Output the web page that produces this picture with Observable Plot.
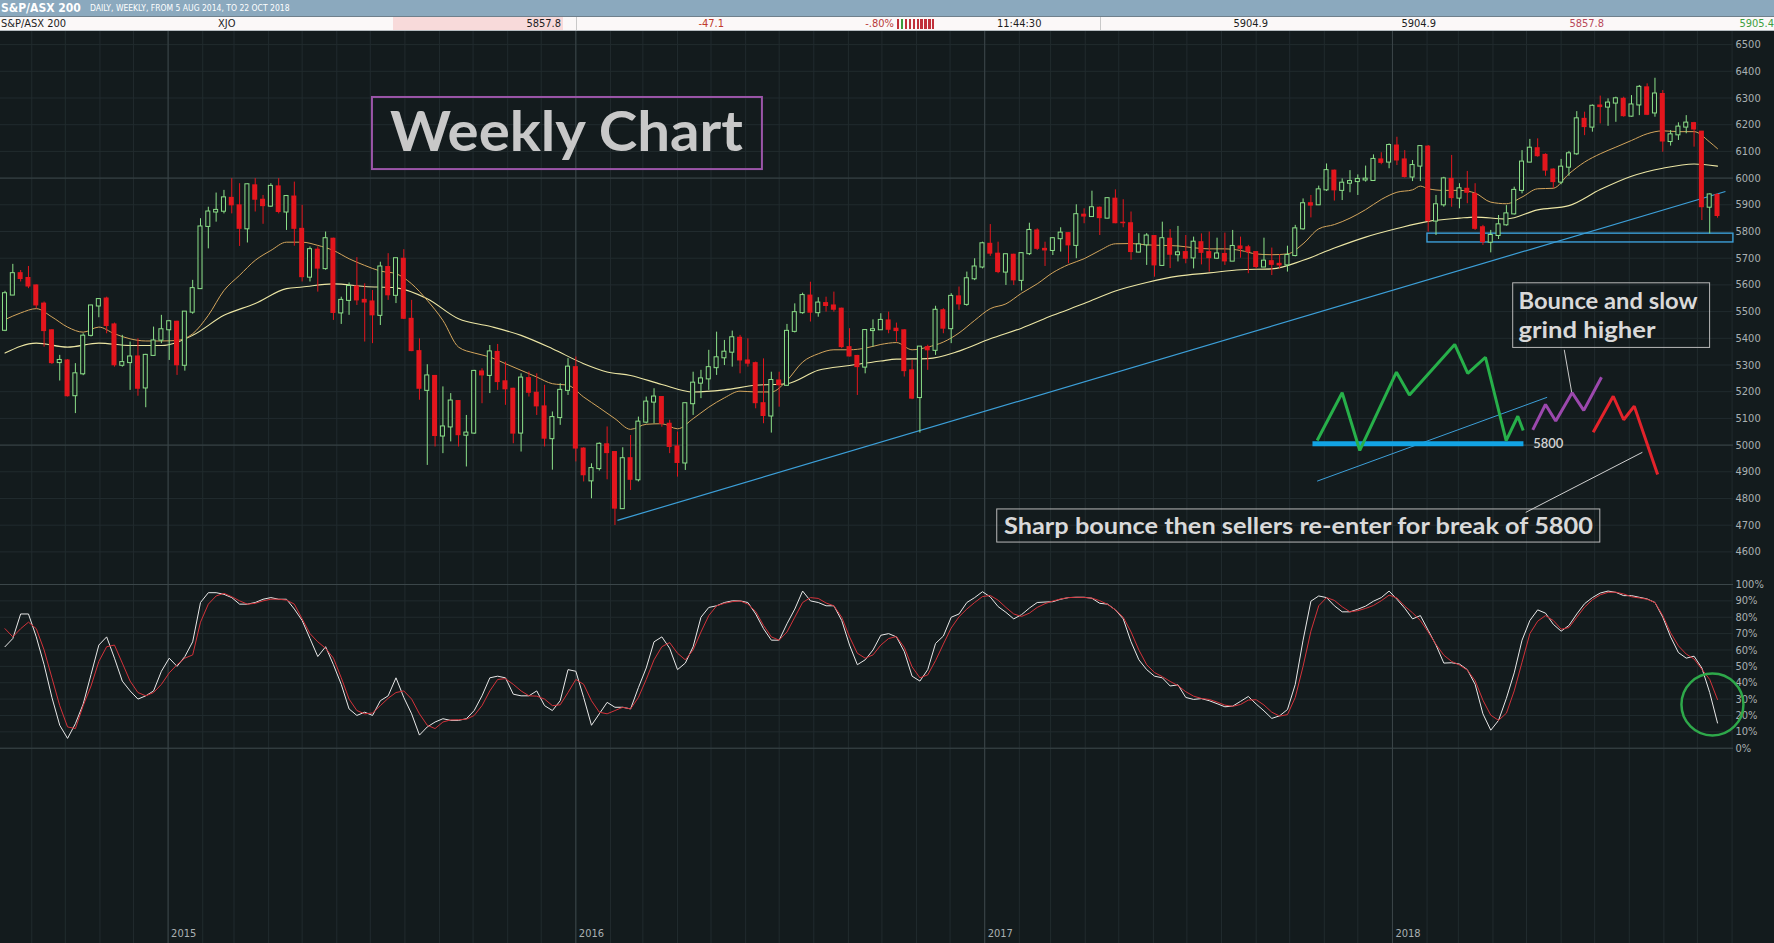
<!DOCTYPE html>
<html><head><meta charset="utf-8">
<script src="https://cdn.jsdelivr.net/npm/d3@7"></script>
<script src="https://cdn.jsdelivr.net/npm/@observablehq/plot@0.6"></script>
<style>
html,body{margin:0;padding:0;background:#131b1d;}
body{width:1774px;height:943px;overflow:hidden;font-family:"DejaVu Sans Condensed","DejaVu Sans",sans-serif;}
#bar1{position:relative;height:16px;background:#8ba9be;color:#fff;}
#bar2{position:relative;height:13px;background:#fbf8f8;border-top:1px solid #6f808c;border-bottom:1px solid #b5bcc0;font-size:11px;line-height:13px;color:#1d1d1d;}
#bar1 span,#bar2 span,#bar2 div{position:absolute;top:0;white-space:nowrap;}
.r{text-align:right;}
</style></head>
<body>
<div id="bar1">
  <span style="left:1px;font-weight:bold;font-size:12px;line-height:16px;">S&amp;P/ASX 200</span>
  <span style="left:90px;font-size:8.5px;line-height:17px;">DAILY, WEEKLY, FROM 5 AUG 2014, TO 22 OCT 2018</span>
</div>
<div id="bar2">
  <span style="left:1px;">S&amp;P/ASX 200</span>
  <span style="left:218px;">XJO</span>
  <div style="left:393px;width:170px;height:13px;background:#f8dada;"></div>
  <span class="r" style="left:393px;width:168px;">5857.8</span>
  <div style="left:576px;width:1px;height:13px;background:#c9c9c9;"></div>
  <span class="r" style="left:640px;width:84px;color:#c0392b;">-47.1</span>
  <span class="r" style="left:820px;width:74px;color:#b83a3a;">-.80%</span>
  <div id="bars" style="left:897px;width:40px;height:13px;"></div>
  <span style="left:997px;">11:44:30</span>
  <div style="left:1100px;width:1px;height:13px;background:#c9c9c9;"></div>
  <span class="r" style="left:1180px;width:88px;">5904.9</span>
  <span class="r" style="left:1350px;width:86px;">5904.9</span>
  <span class="r" style="left:1520px;width:84px;color:#b8485a;">5857.8</span>
  <span class="r" style="left:1690px;width:84px;color:#3f9f3f;">5905.4</span>
</div>
<div id="price"></div>
<div id="osc"></div>
<script>
// ---------------- DATA ----------------
const opens = [5430,5562,5644,5626,5598,5530,5430,5309,5317,5185,
5267,5411,5521,5549,5452,5299,5309,5332,5214,5336,
5393,5432,5462,5299,5498,5586,5819,5873,5876,5926,
5898,5810,5973,5919,5895,5969,5873,5931,5810,5629,
5732,5661,5773,5495,5542,5594,5544,5538,5486,5667,
5561,5698,5473,5352,5205,5259,5034,5068,5165,5037,
5045,5276,5261,5349,5239,5211,5045,5251,5196,5145,
5024,5103,5205,5292,4987,4866,4912,5003,4974,4762,
4951,4870,5086,5161,5180,5080,4995,4933,5155,5232,
5248,5290,5327,5348,5402,5317,5307,5157,5109,5242,
5224,5426,5496,5560,5496,5532,5523,5511,5367,5334,
5292,5429,5432,5467,5436,5430,5280,5178,5367,5355,
5505,5436,5557,5527,5623,5667,5754,5717,5648,5713,
5617,5717,5804,5735,5729,5773,5794,5748,5863,5856,
5889,5850,5923,5833,5831,5723,5750,5783,5673,5773,
5713,5723,5701,5760,5723,5700,5716,5689,5744,5741,
5723,5667,5689,5679,5675,5710,5810,5906,5900,5956,
6028,5954,5981,5987,5993,5991,6070,6060,6122,6070,
6004,6045,6118,5839,5900,5997,5925,5960,5941,5816,
5760,5785,5825,5866,5954,6060,6112,6087,6032,5985,
6041,6091,6222,6191,6272,6266,6281,6297,6232,6274,
6340,6244,6315,6137,6162,6191,6206,6174,5891,5937];
const highs = [5576,5677,5654,5669,5600,5536,5432,5336,5320,5305,
5417,5524,5547,5554,5457,5411,5386,5398,5340,5442,
5486,5467,5464,5500,5617,5848,5891,5944,5954,5998,
5979,5978,5998,5935,5979,5998,5935,5985,5898,5742,
5742,5798,5775,5554,5607,5702,5604,5579,5685,5717,
5700,5732,5542,5398,5301,5261,5218,5193,5167,5111,
5280,5286,5373,5377,5311,5213,5267,5274,5267,5224,
5124,5230,5324,5330,4990,4930,5008,5068,4975,4990,
5036,5105,5180,5211,5182,5093,5049,5157,5273,5280,
5355,5423,5392,5427,5411,5398,5311,5323,5273,5273,
5452,5529,5569,5610,5552,5554,5573,5513,5436,5336,
5430,5469,5492,5498,5457,5432,5317,5369,5374,5520,
5511,5567,5592,5648,5698,5760,5826,5760,5715,5715,
5720,5831,5810,5760,5777,5814,5796,5900,5885,5951,
5892,5925,5956,5919,5873,5792,5792,5785,5835,5807,
5819,5785,5779,5791,5798,5775,5794,5804,5779,5748,
5725,5775,5738,5713,5745,5823,5922,5935,5970,6053,
6030,5997,6028,6012,6045,6087,6095,6128,6153,6103,
6066,6120,6122,5935,6003,6085,5979,6025,5979,5823,
5804,5860,5897,5966,6103,6145,6147,6091,6035,6070,
6100,6249,6247,6274,6307,6297,6303,6303,6309,6347,
6353,6374,6328,6178,6207,6234,6209,6175,5941,5941];
const lows = [5425,5560,5611,5586,5511,5367,5302,5240,5180,5118,
5260,5405,5477,5417,5292,5292,5205,5183,5140,5334,
5380,5317,5261,5277,5490,5584,5735,5835,5866,5866,
5744,5757,5873,5827,5890,5866,5804,5745,5611,5611,
5573,5655,5467,5452,5486,5523,5386,5380,5448,5542,
5530,5470,5350,5168,4924,4993,4968,5012,4993,4918,
5040,5155,5193,5205,5149,5005,4974,5180,5111,4993,
4906,5074,5186,4937,4862,4799,4903,4870,4699,4760,
4830,4862,5080,5080,5067,4968,4880,4905,5111,5174,
5205,5261,5298,5292,5267,5292,5136,5080,5045,5142,
5220,5420,5490,5461,5479,5498,5498,5361,5330,5186,
5267,5367,5430,5417,5386,5255,5170,5045,5280,5336,
5417,5380,5505,5520,5616,5660,5707,5642,5598,5598,
5577,5710,5729,5669,5710,5723,5679,5698,5829,5855,
5785,5848,5829,5814,5692,5720,5673,5629,5670,5661,
5686,5679,5660,5675,5648,5695,5673,5688,5700,5642,
5660,5665,5635,5660,5648,5705,5805,5851,5898,5950,
5914,5916,5945,5935,5985,5990,6050,6035,6047,6000,
5987,5987,5798,5785,5891,5891,5885,5904,5804,5748,
5720,5770,5820,5862,5941,6057,6078,6007,5962,5975,
6007,6085,6159,6172,6203,6194,6209,6228,6228,6234,
6234,6228,6097,6120,6141,6166,6116,5841,5791,5850];
const closes = [5567,5642,5622,5594,5523,5427,5307,5317,5183,5267,
5408,5521,5545,5446,5299,5309,5330,5211,5336,5390,
5432,5462,5299,5498,5586,5817,5873,5879,5926,5898,
5810,5975,5919,5895,5969,5873,5931,5810,5629,5732,
5661,5773,5495,5542,5594,5542,5534,5486,5667,5561,
5698,5473,5352,5211,5259,5034,5068,5165,5037,5045,
5276,5261,5349,5236,5209,5043,5251,5196,5145,5024,
5103,5205,5292,4987,4887,4912,5003,4970,4762,4949,
4870,5086,5161,5180,5080,4993,4933,5155,5232,5248,
5290,5327,5348,5402,5317,5305,5157,5109,5242,5224,
5426,5496,5560,5496,5532,5521,5507,5367,5332,5292,
5429,5432,5467,5432,5427,5277,5174,5367,5355,5505,
5436,5557,5527,5623,5667,5754,5717,5648,5713,5617,
5717,5804,5735,5729,5773,5794,5748,5863,5856,5889,
5850,5923,5831,5831,5723,5750,5783,5673,5773,5713,
5720,5698,5760,5720,5700,5716,5688,5744,5735,5723,
5667,5689,5675,5673,5710,5810,5904,5897,5956,6028,
5954,5981,5987,5995,5996,6070,6057,6122,6066,6004,
6047,6118,5839,5900,5997,5925,5960,5945,5810,5760,
5785,5825,5866,5954,6060,6112,6082,6028,5985,6041,
6091,6222,6191,6269,6266,6281,6297,6232,6274,6340,
6237,6315,6137,6162,6191,6206,6182,5891,5937,5858];

// moving averages: [week number, price]
const fastMA = [[1,5470],[3,5495],[5,5511],[7,5480],[9,5442],[11,5423],[13,5442],[15,5417],[17,5398],[19,5390],[21,5390],[23,5392],[25,5417],[27,5486],[29,5579],[31,5636],[33,5692],[35,5729],[37,5760],[39,5760],[41,5748],[43,5729],[45,5698],[47,5673],[49,5652],[51,5642],[53,5604],[55,5542],[57,5467],[59,5367],[61,5345],[63,5330],[65,5305],[67,5280],[69,5255],[71,5230],[73,5224],[75,5180],[77,5140],[79,5099],[81,5059],[83,5078],[85,5080],[87,5061],[89,5099],[91,5142],[93,5177],[95,5202],[97,5199],[99,5199],[101,5242],[103,5311],[105,5342],[107,5357],[109,5357],[111,5363],[113,5377],[115,5384],[117,5357],[119,5367],[121,5386],[123,5420],[125,5467],[127,5511],[129,5529],[131,5569],[133,5604],[135,5646],[137,5676],[139,5698],[141,5729],[143,5754],[145,5755],[147,5750],[149,5748],[151,5746],[153,5739],[155,5735],[157,5735],[159,5729],[161,5716],[163,5713],[165,5716],[167,5754],[169,5810],[171,5826],[173,5850],[175,5882],[177,5920],[179,5947],[181,5956],[182,5970],[183,5960],[185,5954],[187,5954],[189,5944],[191,5910],[193,5904],[195,5929],[197,5960],[199,5962],[201,6016],[203,6060],[205,6091],[207,6116],[209,6141],[211,6166],[213,6177],[215,6174],[217,6174],[219,6135],[220,6110]];
const slowMA = [[1,5345],[5,5382],[9,5367],[13,5382],[17,5373],[21,5373],[25,5411],[29,5486],[33,5530],[37,5586],[39,5592],[43,5604],[47,5594],[51,5589],[55,5548],[59,5473],[63,5445],[67,5411],[71,5361],[75,5305],[78,5274],[81,5261],[85,5227],[89,5199],[93,5207],[97,5224],[101,5230],[105,5280],[109,5298],[113,5315],[115,5322],[119,5324],[123,5352],[127,5398],[131,5438],[135,5486],[139,5530],[143,5577],[147,5609],[151,5633],[155,5645],[159,5657],[163,5660],[167,5692],[171,5738],[175,5779],[179,5811],[183,5838],[187,5850],[189,5854],[193,5847],[197,5881],[201,5897],[205,5957],[209,6007],[213,6037],[217,6053],[220,6045]];

// stochastic oscillator, one value per week
const stochK = [62,67,82,82,68,51,31,14,6,15,
27,45,63,68,55,41,35,30,32,35,
47,55,50,56,65,89,95,95,94,92,
88,88,89,91,92,91,91,85,78,67,
56,62,51,39,24,20,22,20,29,32,
43,31,21,8,13,16,18,17,17,18,
23,32,43,44,43,33,32,32,35,26,
23,29,48,47,31,14,21,28,25,25,
24,37,49,65,68,61,48,52,62,80,
86,87,89,90,90,89,82,73,66,66,
76,85,96,90,89,87,87,78,63,51,
54,60,69,70,68,59,44,41,48,64,
68.5,80,82,89,92,95.6,92.4,86.5,83,79,
81.6,85.6,89,89.3,89.5,91,92,92.2,92.2,91.6,
88.5,88,84.5,79,65,54,48,44,43,38,
38.7,31,29.8,30.3,29,27.2,25.3,25.7,28.6,31.6,
27,22.8,18.2,19.8,23.6,39,66,89.8,93,92,
87,83.3,83.3,84.9,86.8,89.8,92,96,91,85.5,
79,81,72,63,52,52.2,51.4,48,39,21,
11,17,30.5,46,66,78,84.5,82.5,75.7,71.5,
75,82,88.3,92,94.8,96,95.2,93.2,93.2,92.2,
91.2,89,80,68,58.4,55,56.2,49,34,15.4];
const stochD = [73,68,73,77,73,60,43,26,13,12,
26,38,53,62,63,52,41,34,32,34,
39,46,51,55,57,77,88,93,94.6,92.5,
90,88,88.5,90,91,91,90.5,88,79,70,
65,61,55,43,30,23,21,21.5,26,30.5,
34,35,30,21,14,12,16,17.3,17.4,17.7,
20,26,35,42,42.5,39,35,32,31.8,30,
26,26.5,34,42,39,29,22,21,23,25,
24,31,42,54,62,64.5,58,54,60,71,
81,87,88.5,89.5,90,88,83.5,75,68,66,
71,80,89,92,91.5,88.7,87,80,68,58,
55,57,63,67,68.2,61.6,49.7,43,44.8,53.5,
63.6,73.4,80.3,85,89,92.6,93.3,90.4,86,82,
80.5,82.5,86,88.3,89.9,91.2,92,92.2,92.1,91.7,
90.1,87.9,84.5,80,71,60,51,46.2,43.7,40.8,
38.2,34.5,31.8,30.4,29.8,28.2,26.3,25.6,26.7,29.4,
29.6,26.4,22,19.6,20.5,31,50,71.5,87,92,
90.3,86.4,83.3,84,85.4,87.2,90.1,93.5,91.8,86.8,
82.7,78,71,63.4,56.8,53,50.8,47.7,41.3,29.3,
20.2,17,21.4,35,52.5,70,77.6,81,78,72.7,
73.7,80,86.2,90.7,93.7,95.2,95.3,94.2,92.5,91.8,
91,89,81,70.5,62.5,57.5,54.5,48.2,42,29.7];

// ticks
const priceTicks = [4600,4700,4800,4900,5000,5100,5200,5300,5400,5500,5600,5700,5800,5900,6000,6100,6200,6300,6400,6500];
const pctTicks = [0,10,20,30,40,50,60,70,80,90,100];
const yearLabels = ["2015","2016","2017","2018"];
const yearStarts = ["2015-01-01","2016-01-01","2017-01-01","2018-01-01"];

// annotations (week number, price)
const trendLine = [[79.32,4718],[221.01,5950]];
const supportBox = [{w1:182.91, w2:222.03, p1:5759, p2:5792}];
const greenPath = [[168.80,5017],[172.00,5196],[174.25,4980],[178.94,5273],[180.60,5188],[186.39,5377],[188.06,5269],[190.32,5329],[192.97,5017],[194.46,5108],[195.15,5055]];
const purplePath = [[196.37,5057],[198.00,5152],[199.31,5090],[201.41,5196],[202.89,5130],[205.16,5254]];
const redPath = [[204.10,5048],[206.66,5183],[208.0,5095],[209.35,5146],[212.34,4890]];
const level5800 = [[168.20,5005],[195.18,5005]];
const thinBlue = [[168.80,4865],[198.21,5179]];
const calloutSharp = [[195.47,4748],[210.39,4973]];
const calloutBounce = [[200.40,5357],[201.35,5198]];
const boxes = [
  {w1:47.99, w2:97.86, p1:6032, p2:6302, stroke:"#9b55a8", sw:2},
  {w1:193.87, w2:219.05, p1:5364, p2:5606, stroke:"#b8b8b8", sw:1},
  {w1:127.89, w2:205.01, p1:4635, p2:4759, stroke:"#b8b8b8", sw:1}
];
const titleNote = [{w:72.80, p:6100.7, text:"Weekly Chart", len:353}];
const notes = [
  {w:194.55, p:5511.6, text:"Bounce and slow", len:179},
  {w:194.55, p:5401.9, text:"grind higher", len:137},
  {w:128.75, p:4665.2, text:"Sharp bounce then sellers re-enter for break of 5800", len:589}
];
const circleMark = [{w:219.35, pct:26.7}];

// ---------------- helpers ----------------
const DAY = 864e5;
const t0 = Date.UTC(2014, 7, 8);
const wd = w => new Date(t0 + (w - 1) * 7 * DAY);
const xDomain = [new Date(t0 - 4.03 * DAY), new Date(t0 + 1547.3 * DAY)];
const monthLines = d3.utcMonth.range(new Date(Date.UTC(2014,8,1)), new Date(Date.UTC(2018,11,1)));
const yearDates = yearStarts.map(s => new Date(s + "T00:00:00Z"));

const BG = "#131b1d", GRID = "#212b2e", GRID2 = "#3b4649", AX = "#a9b0b2";
const UP = "#8ce089", DOWN = "#e3161d";

// header mini bars
{
  const bars = document.getElementById("bars");
  for (let i = 0; i < 10; i++) {
    const b = document.createElement("div");
    b.style.cssText = `position:absolute;top:2px;left:${i*3.9}px;width:2.4px;height:10px;background:${i===1?"#3a9a3a":"#c0303a"}`;
    bars.appendChild(b);
  }
}

const candles = closes.map((c, i) => ({date: wd(i + 1), o: opens[i], h: highs[i], l: lows[i], c, up: c >= opens[i]}));
const ups = candles.filter(d => d.up), downs = candles.filter(d => !d.up);

const pt = d => wd(d[0]);
const lineMark = (data, stroke, sw) => Plot.line(data, {x: pt, y: d => d[1], stroke, strokeWidth: sw, strokeLinejoin: "miter", strokeLinecap: "butt"});

const price = Plot.plot({
  width: 1774, height: 544,
  marginLeft: 0, marginRight: 41, marginTop: 0, marginBottom: 0,
  style: {background: BG, color: AX, fontFamily: "DejaVu Sans Condensed, DejaVu Sans, sans-serif", fontSize: "11px"},
  x: {type: "utc", domain: xDomain, axis: null},
  y: {domain: [4511.6, 6549.1], axis: null},
  marks: [
    Plot.ruleX(monthLines, {stroke: GRID}),
    Plot.ruleY(priceTicks, {stroke: GRID}),
    Plot.ruleX(yearDates, {stroke: GRID2}),
    Plot.ruleY([5000, 6000], {stroke: GRID2}),
    Plot.axisY({anchor: "right", ticks: priceTicks, tickSize: 0, tickPadding: 2, tickFormat: d => String(d), fill: AX, label: null}),
    Plot.line(slowMA, {x: pt, y: d => d[1], stroke: "#ece6a4", strokeWidth: 1.1, curve: "monotone-x"}),
    Plot.line(fastMA, {x: pt, y: d => d[1], stroke: "#d3a55c", strokeWidth: 1, curve: "monotone-x"}),
    lineMark(trendLine, "#3c9fd8", 1.2),
    Plot.rect(supportBox, {x1: d => wd(d.w1), x2: d => wd(d.w2), y1: "p1", y2: "p2", fill: "none", stroke: "#3c9fd8", strokeWidth: 1.4}),
    Plot.ruleX(candles, {x: "date", y1: "l", y2: "h", stroke: d => d.up ? UP : DOWN, strokeWidth: 1}),
    Plot.rect(downs, {x1: d => new Date(+d.date - 2.25 * DAY), x2: d => new Date(+d.date + 2.25 * DAY), y1: "o", y2: "c", fill: DOWN, insetTop: -0.5, insetBottom: -0.5}),
    Plot.rect(ups, {x1: d => new Date(+d.date - 1.8 * DAY), x2: d => new Date(+d.date + 1.8 * DAY), y1: "o", y2: "c", fill: BG, stroke: UP, strokeWidth: 1, insetTop: -0.5, insetBottom: -0.5}),
    // annotations
    Plot.rect(boxes, {x1: d => wd(d.w1), x2: d => wd(d.w2), y1: "p1", y2: "p2", fill: "none", stroke: d => d.stroke, strokeWidth: d => d.sw}),
    lineMark(calloutSharp, "#d0d0d0", 1),
    lineMark(calloutBounce, "#c8c8c8", 1),
    lineMark(thinBlue, "#3c9fd8", 1),
    lineMark(level5800, "#12a3e4", 5),
    lineMark(greenPath, "#27b04a", 3),
    lineMark(purplePath, "#9b48ad", 3),
    lineMark(redPath, "#e3232b", 3),
    Plot.text([{w: 196.42, p: 5005}], {x: d => wd(d.w), y: "p", text: () => "5800", fill: "#d2d2d2", fontSize: 13, fontWeight: 600, textAnchor: "start", fontFamily: "Lato"}),
    Plot.text(titleNote, {x: d => wd(d.w), y: "p", text: "text", fontSize: 56, textAnchor: "middle", lineAnchor: "bottom", fill: "#c8c8c8", fontWeight: "bold", fontFamily: "Lato"}),
    Plot.text(notes, {x: d => wd(d.w), y: "p", text: "text", fontSize: 22, textAnchor: "start", lineAnchor: "bottom", fill: "#d9d9d9", fontWeight: "bold", fontFamily: "Lato"})
  ]
});

const osc = Plot.plot({
  width: 1774, height: 368,
  marginLeft: 0, marginRight: 41, marginTop: 0, marginBottom: 0,
  style: {background: BG, color: AX, fontFamily: "DejaVu Sans Condensed, DejaVu Sans, sans-serif", fontSize: "11px"},
  x: {type: "utc", domain: xDomain, axis: null},
  y: {domain: [-119.3, 105.5], axis: null},
  marks: [
    Plot.ruleX(monthLines, {stroke: GRID}),
    Plot.ruleY(pctTicks, {stroke: GRID}),
    Plot.ruleX(yearDates, {stroke: GRID2}),
    Plot.ruleY([0, 100], {stroke: GRID2}),
    Plot.axisY({anchor: "right", ticks: pctTicks, tickSize: 0, tickPadding: 2, tickFormat: d => d + "%", fill: AX, label: null}),
    Plot.line(stochK, {x: (d, i) => wd(i + 1), y: d => d, stroke: "#e8e8e8", strokeWidth: 1}),
    Plot.line(stochD, {x: (d, i) => wd(i + 1), y: d => d, stroke: "#d3323a", strokeWidth: 1}),
    Plot.dot(circleMark, {x: d => wd(d.w), y: "pct", r: 31, stroke: "#2ea84a", strokeWidth: 2.5, fill: "none"}),
    Plot.text(yearDates, {x: d => d, y: () => -113.2, text: yearLabels, dx: 3, textAnchor: "start", fill: AX, fontSize: 11})
  ]
});

document.getElementById("price").appendChild(price);
document.getElementById("osc").appendChild(osc);

const lens = Object.fromEntries(titleNote.concat(notes).map(n => [n.text, n.len]));
d3.select(price).selectAll("text").each(function() {
  const t = this.textContent;
  if (lens[t] && this.childElementCount === 0) {
    this.setAttribute("textLength", lens[t]);
    this.setAttribute("lengthAdjust", "spacingAndGlyphs");
  }
});
</script>
</body></html>
